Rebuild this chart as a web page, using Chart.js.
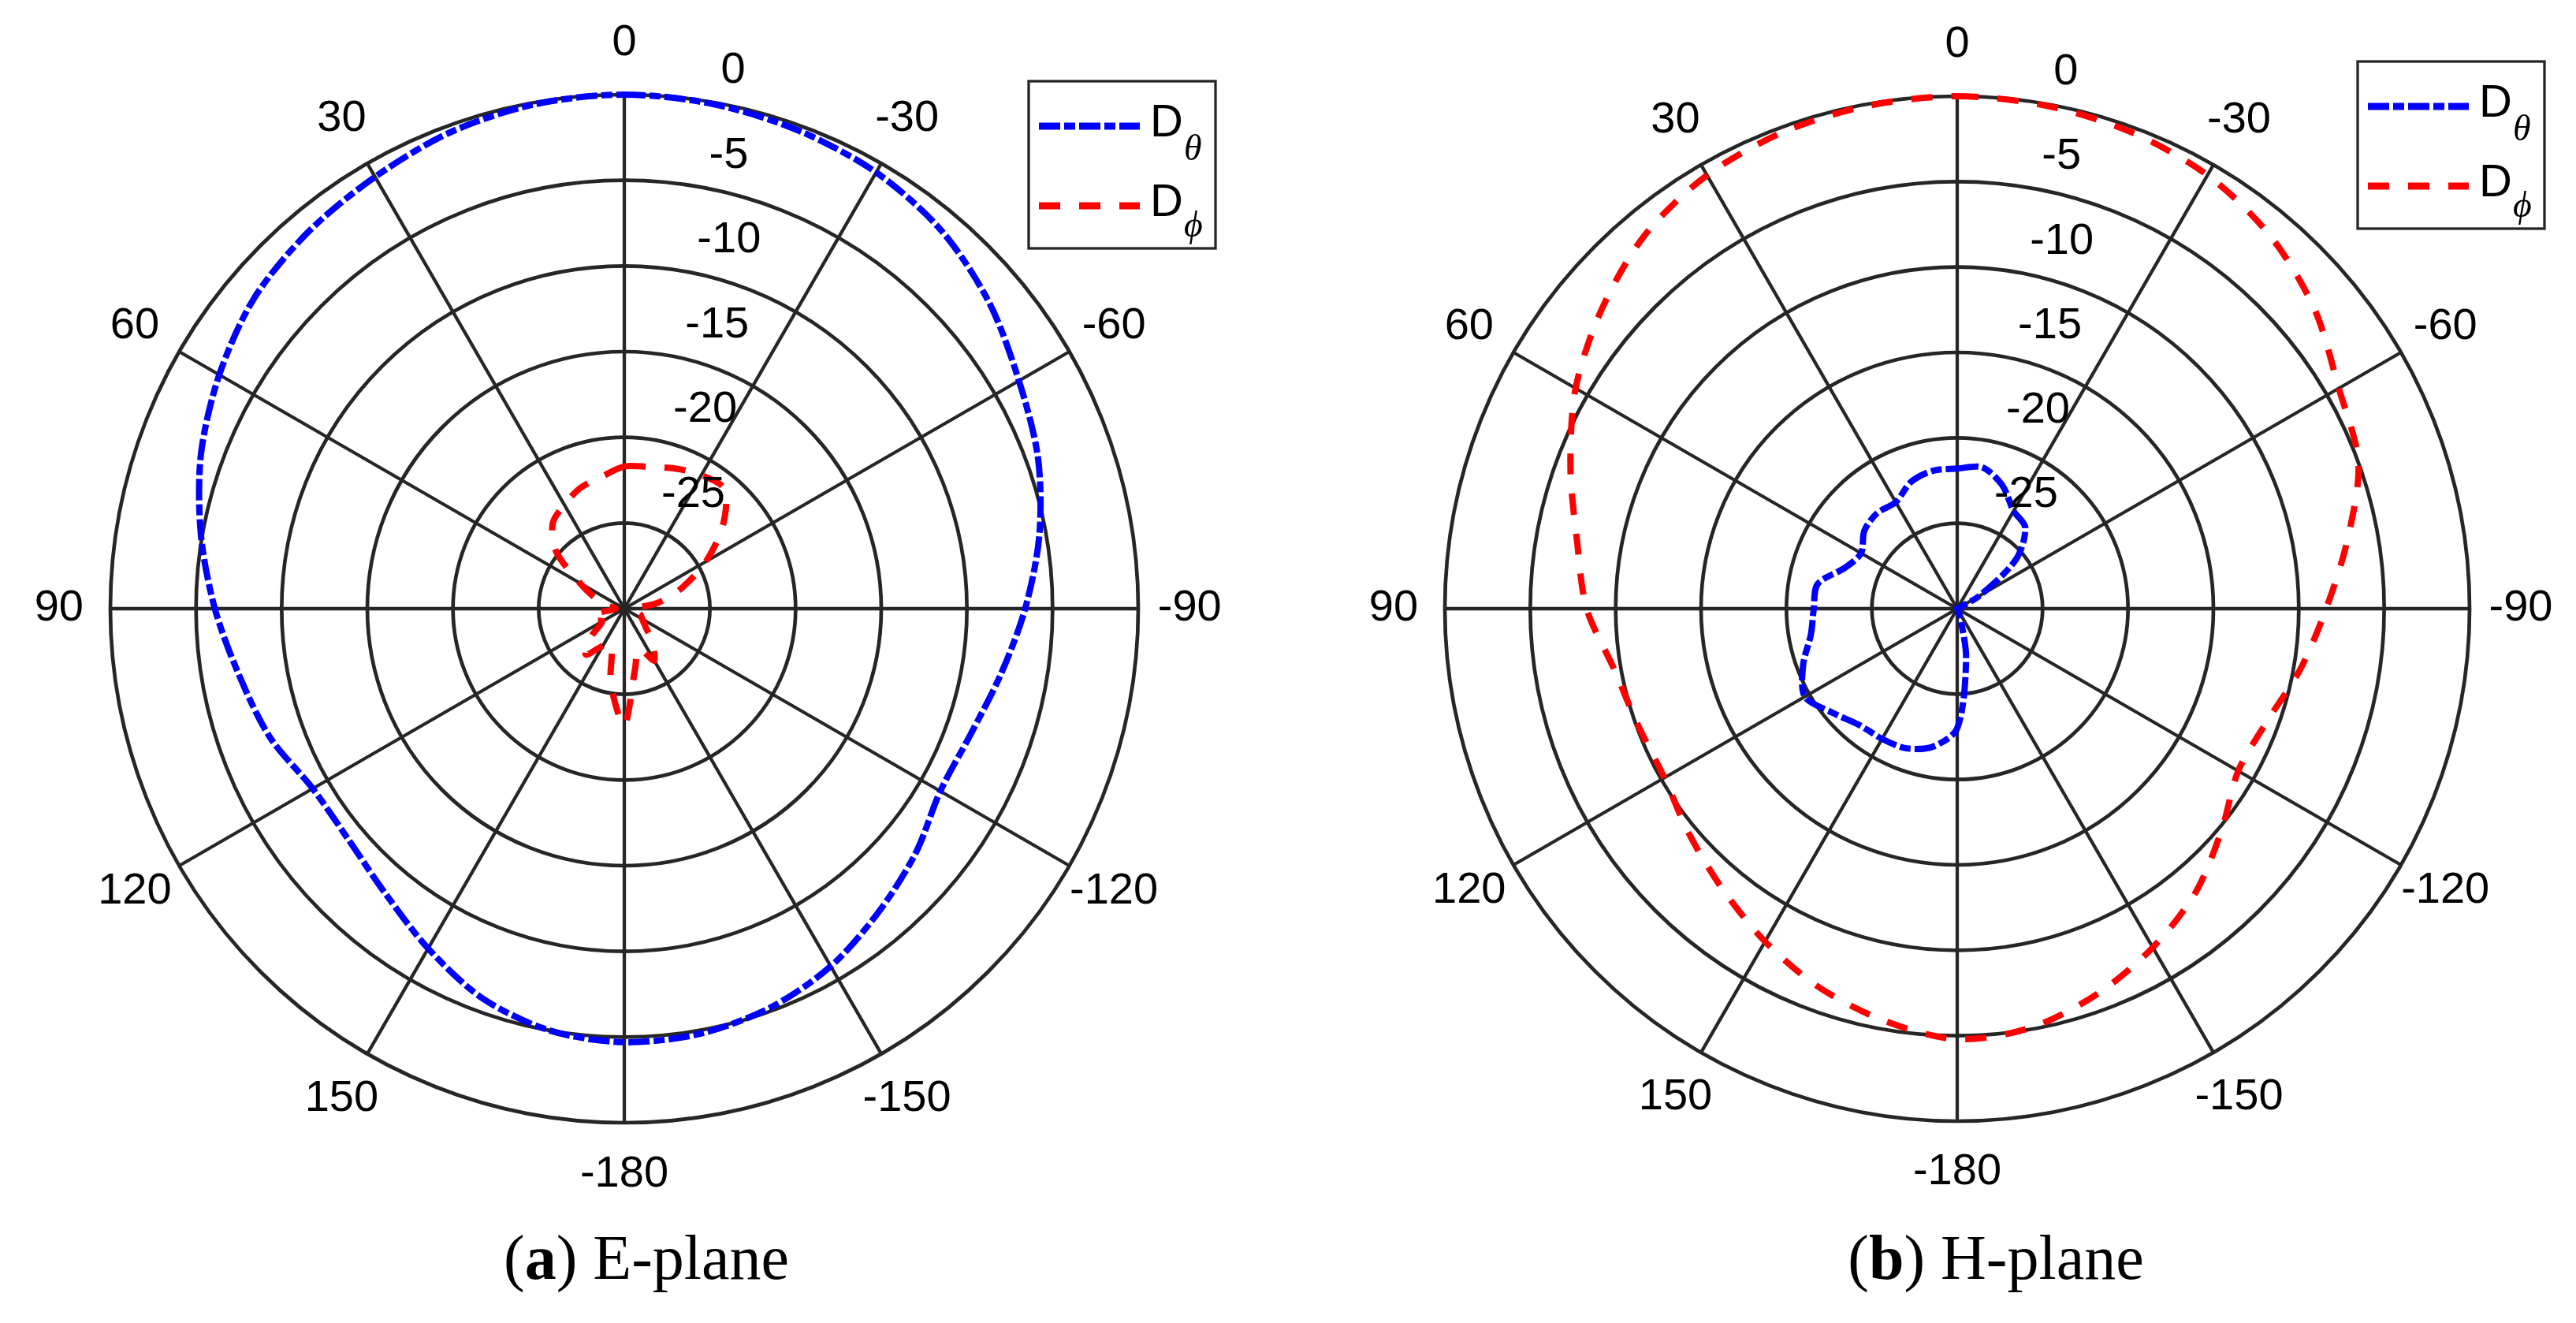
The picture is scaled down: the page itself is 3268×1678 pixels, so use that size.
<!DOCTYPE html>
<html>
<head>
<meta charset="utf-8">
<script src="https://cdn.jsdelivr.net/npm/chart.js@4.4.1/dist/chart.umd.min.js"></script>
<style>
  html, body { margin: 0; padding: 0; background: #fff; }
  #page { position: relative; width: 3268px; height: 1678px; overflow: hidden; background: #fff; }
  canvas { position: absolute; top: 0; }
  .cap { position: absolute; top: 1555px; width: 700px; text-align: center;
         font-family: "Liberation Serif", "DejaVu Serif", serif; font-size: 80px; line-height: 1; color: #000; }
</style>
</head>
<body>
<div id="page">
  <canvas id="eplane" width="1634" height="1678" style="left:0"></canvas>
  <canvas id="hplane" width="1634" height="1678" style="left:1634px"></canvas>
  <div class="cap" style="left:470px">(<b>a</b>) E-plane</div>
  <div class="cap" style="left:2182px">(<b>b</b>) H-plane</div>
</div>
<script>
// angle (deg) of each sample, going clockwise from the top
const angles = [0, -10, -20, -30, -40, -50, -60, -70, -80, -90, -100, -110, -120, -130, -140, -150, -160, -170,
  -180, 170, 160, 150, 140, 130, 120, 110, 100, 90, 80, 70, 60, 50, 40, 30, 20, 10];
const radialTicks = [0, -5, -10, -15, -20, -25];
const seriesNames = ['Dθ', 'Dϕ'];

// E-plane (dB)
const eTheta = [0, -0.1, -0.3, -0.6, -1.2, -2.2, -3.4, -4.3, -5.4, -6.6, -7.7, -8.5, -8.7, -7.8, -6.9, -5.9, -5.2, -4.8,
  -4.7, -5.0, -5.8, -7.1, -8.3, -9.0, -9.0, -8.0, -7.2, -6.1, -4.9, -3.7, -2.7, -1.8, -1.3, -0.9, -0.4, -0.1];
const ePhi = [-21.7, -21.6, -21.3, -21.0, -20.9, -22.5, -24.5, -26.4, -28.0, -29.5, -29.5, -29.0, -28.8, -28.4, -27.5, -26.5, -27.5, -26.4,
  -23.2, -25.5, -27.8, -27.5, -26.5, -27.5, -28.5, -28.0, -28.5, -29.5, -29.0, -28.2, -27.0, -24.8, -23.5, -23.0, -22.5, -22.2];

// H-plane (dB)
const hTheta = [-21.8, -21.6, -22.3, -23.4, -23.8, -25.5, -28.5, -30, -30, -30, -30, -30, -30, -30, -30, -30, -29.5, -27.0,
  -23.0, -21.8, -21.3, -21.2, -21.1, -20.5, -19.7, -20.4, -21.3, -21.6, -21.7, -23.0, -23.5, -22.9, -22.7, -22.8, -22.1, -21.8];
const hPhi = [0, -0.1, -0.3, -0.7, -1.5, -2.7, -4.2, -5.0, -6.8, -8.4, -9.6, -10.7, -11.0, -9.8, -8.3, -7.1, -6.0, -5.1,
  -4.8, -5.5, -6.4, -7.5, -8.6, -9.5, -10.2, -10.1, -9.6, -8.3, -7.4, -5.9, -4.2, -2.8, -1.5, -0.7, -0.3, -0.1];

const gridColor = '#262626';
const sans = '"Liberation Sans", Arial, sans-serif';

const polarText = {
  id: 'polarText',
  afterDraw(chart, args, opts) {
    const s = chart.scales.r;
    const ctx = chart.ctx;
    const R = s.drawingArea;
    ctx.save();
    ctx.fillStyle = '#000';
    ctx.font = '56px ' + sans;
    ctx.textAlign = 'center';
    ctx.textBaseline = 'middle';
    chart.data.labels.forEach((lab, i) => {
      if (lab % 30 !== 0) return;
      const p = s.getPointPosition(i, R * 1.1);
      ctx.fillText(String(lab), p.x, p.y);
    });
    // radial ticks, placed like the matlab polar labels at 82 deg
    const c82 = Math.cos(82 * Math.PI / 180), s82 = Math.sin(82 * Math.PI / 180);
    ctx.textAlign = 'left';
    ctx.textBaseline = 'alphabetic';
    radialTicks.forEach(v => {
      const rr = s.getDistanceFromCenterForValue(v) + R / 120;
      ctx.fillText('  ' + v, s.xCenter + rr * c82, s.yCenter - rr * s82 - 16);
    });
    // legend box
    const lx = s.xCenter + opts.dx, ly = s.yCenter + opts.dy;
    ctx.lineWidth = 3.3;
    ctx.strokeStyle = gridColor;
    ctx.strokeRect(lx, ly, 237, 212);
    chart.data.datasets.forEach((ds, k) => {
      const y = ly + 57 + k * 101;
      ctx.save();
      ctx.setLineDash(ds.borderDash);
      ctx.lineWidth = 9;
      ctx.strokeStyle = ds.borderColor;
      ctx.beginPath();
      ctx.moveTo(lx + 13, y);
      ctx.lineTo(lx + 141, y);
      ctx.stroke();
      ctx.restore();
      ctx.fillStyle = '#000';
      ctx.font = '58px ' + sans;
      ctx.fillText(ds.label.charAt(0), lx + 154, y + 13);
      ctx.font = 'italic 46px "Liberation Serif", serif';
      ctx.fillText(ds.label.slice(1), lx + 197, y + (k === 0 ? 43 : 39));
    });
    ctx.restore();
  }
};

function makeChart(id, theta, phi, pad, legendPos) {
  return new Chart(document.getElementById(id), {
    type: 'radar',
    data: {
      labels: angles,
      datasets: [{
        label: seriesNames[0],
        data: theta,
        borderColor: '#0000ff',
        borderWidth: 8,
        borderDash: [27, 5, 14, 5],
        fill: false,
        pointRadius: 0,
        tension: 0.3
      }, {
        label: seriesNames[1],
        data: phi,
        borderColor: '#ff0000',
        borderWidth: 8,
        borderDash: [27, 24],
        fill: false,
        pointRadius: 0,
        tension: 0.3
      }]
    },
    options: {
      responsive: false,
      animation: false,
      devicePixelRatio: 1,
      layout: { padding: pad },
      plugins: {
        legend: { display: false },
        tooltip: { enabled: false },
        polarText: legendPos
      },
      scales: {
        r: {
          min: -30,
          max: 0,
          ticks: { stepSize: 5, display: false },
          pointLabels: { display: false },
          grid: { circular: true, color: gridColor, lineWidth: 4.7 },
          angleLines: {
            color: gridColor,
            lineWidth: ctx => (angles[ctx.index] % 30 === 0 ? 4.3 : 0)
          }
        }
      }
    },
    plugins: [polarText]
  });
}

makeChart('eplane', eTheta, ePhi, { left: 140, top: 120, right: 190, bottom: 254 }, { dx: 513, dy: -669 });
makeChart('hplane', hTheta, hPhi, { left: 199, top: 122, right: 135, bottom: 256 }, { dx: 508, dy: -694 });
</script>
</body>
</html>
